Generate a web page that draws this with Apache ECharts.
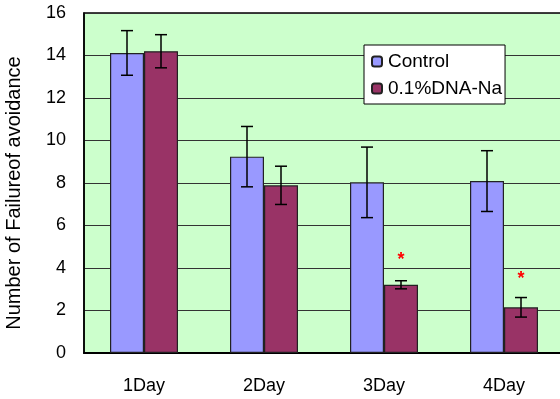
<!DOCTYPE html>
<html>
<head>
<meta charset="utf-8">
<script src="https://cdn.jsdelivr.net/npm/echarts@6/dist/echarts.min.js"></script>
<style>
  html, body { margin: 0; padding: 0; background: #ffffff; }
  #chart { width: 560px; height: 399px; }
</style>
</head>
<body>
<div id="chart"></div>
<script>
// Days of the avoidance test
const categories = ['1Day', '2Day', '3Day', '4Day'];
// Mean number of avoidance failures
const controlValues = [14.12, 9.24, 8.03, 8.09];
const dnaValues = [14.2, 7.89, 3.21, 2.15];
// Standard errors
const controlErrors = [1.05, 1.42, 1.66, 1.43];
const dnaErrors = [0.78, 0.9, 0.19, 0.46];
// Significance markers (height of the asterisk, null = none)
const dnaStars = [null, null, 4.56, 3.66];
const yTicks = { min: 0, max: 16, step: 2 };

const FONT = '"Liberation Sans", Arial, sans-serif';
const BAR_W = 34;

const chart = echarts.init(document.getElementById('chart'), null, { renderer: 'canvas' });

function errorSeries(values, errors, offset) {
  return {
    type: 'custom',
    silent: true,
    z: 5,
    data: values.map((v, i) => [i, v, errors[i]]),
    renderItem: function (params, api) {
      const i = api.value(0);
      const v = api.value(1);
      const e = api.value(2);
      const top = api.coord([i, v + e]);
      const bot = api.coord([i, v - e]);
      const x = top[0] + offset;
      const cap = 6;
      const style = { stroke: '#000', lineWidth: 1.5 };
      return {
        type: 'group',
        children: [
          { type: 'line', shape: { x1: x, y1: top[1], x2: x, y2: bot[1] }, style: style },
          { type: 'line', shape: { x1: x - cap, y1: top[1], x2: x + cap, y2: top[1] }, style: style },
          { type: 'line', shape: { x1: x - cap, y1: bot[1], x2: x + cap, y2: bot[1] }, style: style }
        ]
      };
    }
  };
}

const option = {
  animation: false,
  backgroundColor: '#ffffff',
  textStyle: { fontFamily: FONT },
  grid: {
    left: 84, top: 13, width: 480, height: 340,
    outerBoundsMode: 'none',
    containLabel: false,
    show: true,
    backgroundColor: '#CCFFCC',
    borderColor: '#000',
    borderWidth: 1.5
  },
  legend: {
    orient: 'vertical',
    left: 364,
    top: 45,
    backgroundColor: '#ffffff',
    borderColor: '#000',
    borderWidth: 1,
    padding: [7, 3, 6, 7],
    itemGap: 8,
    itemWidth: 10,
    itemHeight: 10,
    textStyle: { fontFamily: FONT, fontSize: 19, color: '#000', padding: [0, 0, 0, 1] },
    data: ['Control', '0.1%DNA-Na']
  },
  xAxis: {
    type: 'category',
    data: categories,
    axisLine: { lineStyle: { color: '#000', width: 2 } },
    axisTick: { inside: true, length: 6, lineStyle: { color: '#000', width: 1 } },
    axisLabel: { color: '#000', fontSize: 18, fontFamily: FONT, margin: 24 }
  },
  yAxis: {
    type: 'value',
    min: yTicks.min,
    max: yTicks.max,
    interval: yTicks.step,
    name: 'Number of Failureof avoidance',
    nameLocation: 'middle',
    nameRotate: 90,
    nameGap: 60,
    nameTextStyle: { color: '#000', fontSize: 20, fontFamily: FONT, padding: [0, 20, 0, 0] },
    axisLine: { show: true, lineStyle: { color: '#000', width: 1.5 } },
    axisTick: { show: false },
    axisLabel: { color: '#000', fontSize: 18, fontFamily: FONT, margin: 18 },
    splitLine: { show: true, lineStyle: { color: '#333', width: 1 } }
  },
  series: [
    {
      name: 'Control',
      type: 'bar',
      data: controlValues,
      barWidth: BAR_W,
      barGap: '0%',
      itemStyle: { color: '#9999FF', borderColor: '#222', borderWidth: 1.2 }
    },
    {
      name: '0.1%DNA-Na',
      type: 'bar',
      data: dnaValues,
      barWidth: BAR_W,
      barGap: '0%',
      itemStyle: { color: '#993366', borderColor: '#222', borderWidth: 1.2 }
    },
    errorSeries(controlValues, controlErrors, -BAR_W / 2),
    errorSeries(dnaValues, dnaErrors, BAR_W / 2),
    {
      type: 'custom',
      silent: true,
      z: 6,
      data: dnaStars.map((v, i) => [i, v]),
      renderItem: function (params, api) {
        const v = api.value(1);
        if (v == null || isNaN(v)) return null;
        const p = api.coord([api.value(0), v]);
        return {
          type: 'text',
          style: {
            x: p[0] + BAR_W / 2, y: p[1] + 4,
            text: '*', fill: '#FF0000',
            font: 'bold 18px ' + FONT,
            align: 'center', verticalAlign: 'middle'
          }
        };
      }
    }
  ]
};

chart.setOption(option);
</script>
</body>
</html>
